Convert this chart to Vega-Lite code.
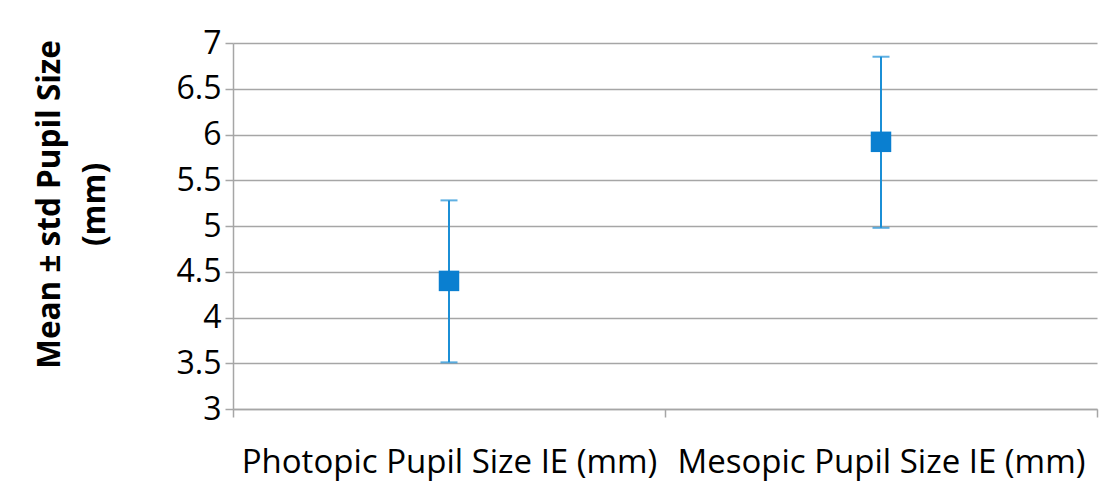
{
  "$schema": "https://vega.github.io/schema/vega-lite/v6.json",
  "width": 864,
  "height": 366,
  "autosize": {"type": "none"},
  "padding": {"left": 233, "top": 43, "right": 19, "bottom": 85},
  "background": "white",
  "config": {
    "font": "Open Sans",
    "view": {"stroke": null}
  },
  "data": {
    "values": [
      {"category": "Photopic Pupil Size IE (mm)", "mean": 4.40, "lower": 3.51, "upper": 5.28},
      {"category": "Mesopic Pupil Size IE (mm)", "mean": 5.92, "lower": 4.98, "upper": 6.85}
    ]
  },
  "encoding": {
    "x": {
      "field": "category",
      "type": "nominal",
      "sort": null,
      "scale": {"paddingInner": 0, "paddingOuter": 0},
      "axis": {
        "title": null,
        "labelAngle": 0,
        "labelFontSize": 33,
        "labelLimit": 0,
        "labelColor": "#000000",
        "labelPadding": 29,
        "tickBand": "extent",
        "tickSize": 8,
        "tickColor": "#a6a6a6",
        "tickWidth": 1.5,
        "domainColor": "#a6a6a6",
        "domainWidth": 1.5,
        "grid": false
      }
    }
  },
  "layer": [
    {
      "mark": {"type": "rule", "color": "#1b8fd6", "strokeWidth": 2},
      "encoding": {
        "y": {
          "field": "lower",
          "type": "quantitative",
          "scale": {"domain": [3, 7], "nice": false, "zero": false},
          "axis": {
            "title": ["Mean ± std Pupil Size", "(mm)"],
            "titleFontSize": 31.5,
            "titleFontWeight": "bold",
            "titleColor": "#000000",
            "titleLineHeight": 45,
            "titleX": -183,
            "titleY": 161,
            "titleBaseline": "middle",
            "titleAngle": -90,
            "values": [3, 3.5, 4, 4.5, 5, 5.5, 6, 6.5, 7],
            "format": "~g",
            "labelFontSize": 32,
            "labelColor": "#000000",
            "labelPadding": 4,
            "tickSize": 8,
            "tickColor": "#a6a6a6",
            "tickWidth": 1.5,
            "domainColor": "#a6a6a6",
            "domainWidth": 1.5,
            "gridColor": "#a6a6a6",
            "gridWidth": 1.5
          }
        },
        "y2": {"field": "upper"}
      }
    },
    {
      "mark": {"type": "tick", "color": "#1b8fd6", "thickness": 2, "size": 17, "orient": "horizontal"},
      "encoding": {"y": {"field": "lower", "type": "quantitative"}}
    },
    {
      "mark": {"type": "tick", "color": "#1b8fd6", "thickness": 2, "size": 17, "orient": "horizontal"},
      "encoding": {"y": {"field": "upper", "type": "quantitative"}}
    },
    {
      "mark": {"type": "square", "color": "#0a7fd0", "filled": true, "opacity": 1, "size": 420},
      "encoding": {"y": {"field": "mean", "type": "quantitative"}}
    }
  ]
}
